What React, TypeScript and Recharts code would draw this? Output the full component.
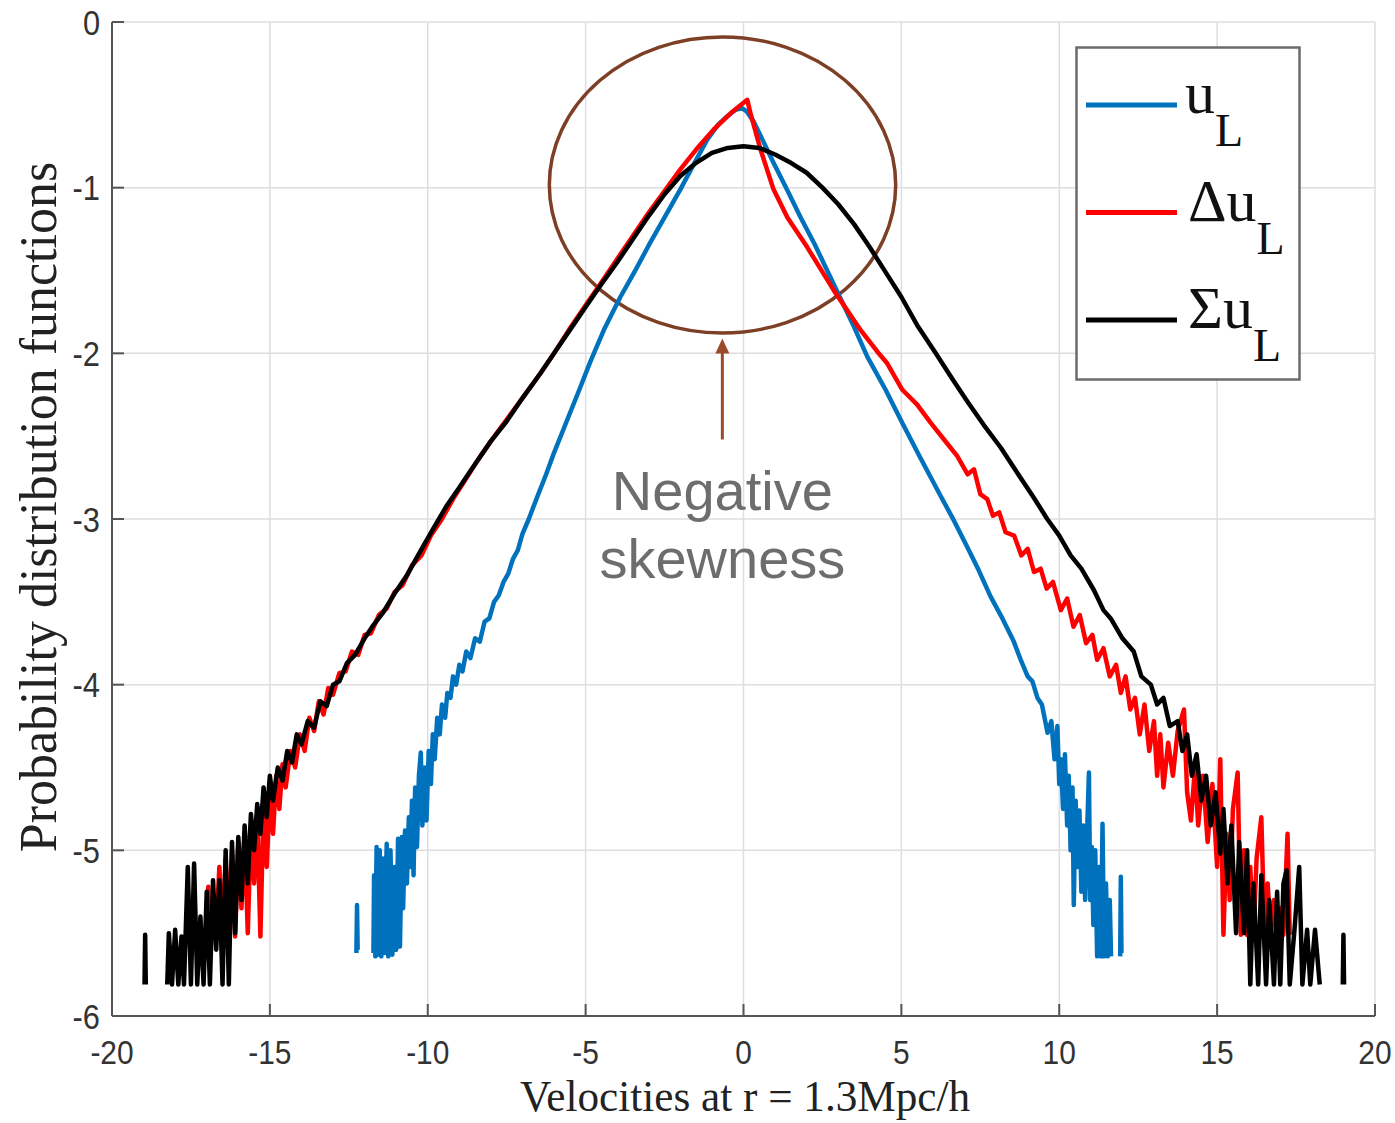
import {
  CartesianGrid,
  Legend,
  Line,
  LineChart,
  ReferenceArea,
  ReferenceDot,
  XAxis,
  YAxis,
} from "recharts";

type Pt = [number, number | null];

/** u_L : velocity PDF (log10) */
const uLPoints: Pt[] = [
  [-12.26, -5.62], [-12.24, -5.33], [-12.22, -5.6], [-12.0, null],
  [-11.72, -5.62], [-11.7, -5.15], [-11.66, -5.64], [-11.62, -4.98], [-11.58, -5.63],
  [-11.52, -5.0], [-11.47, -5.64], [-11.42, -5.05], [-11.37, -5.62], [-11.3, -4.96],
  [-11.25, -5.64], [-11.18, -5.0], [-11.12, -5.63], [-11.05, -5.1], [-11.0, -5.6],
  [-10.94, -4.93], [-10.88, -5.58], [-10.82, -4.92], [-10.78, -5.35], [-10.72, -4.88],
  [-10.66, -5.2], [-10.6, -4.8], [-10.55, -5.1], [-10.5, -4.7], [-10.45, -5.15],
  [-10.4, -4.62], [-10.34, -4.98], [-10.28, -4.55], [-10.22, -4.41], [-10.17, -4.85],
  [-10.1, -4.5], [-10.04, -4.82], [-9.97, -4.4], [-9.9, -4.6], [-9.84, -4.3],
  [-9.78, -4.45], [-9.7, -4.2], [-9.62, -4.3], [-9.55, -4.12], [-9.45, -4.2],
  [-9.38, -4.05], [-9.28, -4.08], [-9.2, -3.95], [-9.1, -4.0], [-9.0, -3.88],
  [-8.9, -3.92], [-8.78, -3.8], [-8.65, -3.84], [-8.5, -3.72], [-8.35, -3.74],
  [-8.2, -3.62], [-8.05, -3.6], [-7.9, -3.5], [-7.75, -3.46], [-7.6, -3.38],
  [-7.45, -3.33], [-7.3, -3.24], [-7.15, -3.19], [-7.0, -3.09], [-6.8, -3.0],
  [-6.54, -2.87], [-6.25, -2.73], [-6.02, -2.61], [-5.6, -2.41], [-5.2, -2.22],
  [-4.85, -2.05], [-4.4, -1.85], [-3.9, -1.66], [-3.4, -1.49], [-2.95, -1.33],
  [-2.5, -1.18], [-2.0, -1.01], [-1.55, -0.85], [-1.15, -0.71], [-0.8, -0.62],
  [-0.52, -0.57], [-0.25, -0.53], [-0.05, -0.52], [0.1, -0.54], [0.32, -0.6],
  [0.6, -0.71], [0.95, -0.85], [1.4, -1.02], [1.81, -1.18], [2.25, -1.34],
  [2.65, -1.5], [3.05, -1.66], [3.5, -1.84], [3.92, -2.02], [4.5, -2.22],
  [5.03, -2.42], [5.6, -2.63], [6.24, -2.86], [6.61, -2.99], [7.09, -3.17],
  [7.45, -3.31], [7.83, -3.47], [8.2, -3.6], [8.56, -3.74], [8.8, -3.86],
  [9.0, -3.95], [9.15, -3.98], [9.31, -4.08], [9.45, -4.12], [9.63, -4.29],
  [9.75, -4.22], [9.85, -4.45], [9.94, -4.25], [10.0, -4.6], [10.05, -4.45],
  [10.12, -4.75], [10.18, -4.42], [10.25, -4.85], [10.3, -4.55], [10.36, -5.0],
  [10.42, -4.62], [10.46, -5.33], [10.52, -4.7], [10.58, -5.1], [10.64, -4.76],
  [10.7, -5.25], [10.76, -4.85], [10.82, -5.3], [10.88, -4.9], [10.94, -4.53],
  [10.98, -5.3], [11.03, -4.98], [11.08, -5.45], [11.14, -5.0], [11.2, -5.64],
  [11.26, -5.1], [11.32, -5.64], [11.37, -4.84], [11.42, -5.64], [11.48, -5.2],
  [11.54, -5.64], [11.6, -5.3], [11.64, -5.64], [11.8, null],
  [11.93, -5.64], [11.95, -5.16], [11.97, -5.62],
];

/** Δu_L */
const dULPoints: Pt[] = [
  [-17.0, -5.52], [-16.95, -5.22], [-16.9, -5.52], [-16.8, -5.3], [-16.7, -5.5],
  [-16.6, -5.1], [-16.5, -5.52], [-16.4, -5.05], [-16.3, -5.45], [-16.2, -5.0],
  [-16.1, -5.52], [-16.0, -4.95], [-15.9, -5.35], [-15.8, -4.9], [-15.7, -5.5],
  [-15.6, -4.85], [-15.5, -5.2], [-15.4, -4.8], [-15.3, -5.52], [-15.2, -4.72],
  [-15.1, -5.1], [-15.0, -4.65], [-14.9, -4.9], [-14.8, -4.55], [-14.7, -4.75],
  [-14.6, -4.48], [-14.5, -4.62], [-14.35, -4.4], [-14.2, -4.5], [-14.05, -4.3],
  [-13.9, -4.4], [-13.75, -4.2], [-13.6, -4.28], [-13.45, -4.1], [-13.3, -4.18],
  [-13.15, -4.02], [-13.0, -4.06], [-12.8, -3.93], [-12.6, -3.92], [-12.4, -3.8],
  [-12.2, -3.82], [-12.0, -3.7], [-11.8, -3.69], [-11.55, -3.58], [-11.3, -3.54],
  [-11.05, -3.44], [-10.8, -3.4], [-10.5, -3.28], [-10.2, -3.22], [-9.9, -3.1],
  [-9.55, -3.0], [-9.2, -2.88], [-8.8, -2.76], [-8.4, -2.64], [-8.0, -2.53],
  [-7.5, -2.4], [-7.0, -2.27], [-6.43, -2.12], [-6.0, -2.0], [-5.5, -1.85],
  [-5.0, -1.71], [-4.53, -1.58], [-4.0, -1.43], [-3.5, -1.29], [-3.0, -1.15],
  [-2.5, -1.02], [-2.0, -0.89], [-1.5, -0.77], [-0.95, -0.65], [-0.4, -0.55],
  [0.12, -0.47], [0.22, -0.55], [0.54, -0.77], [0.95, -1.01], [1.39, -1.18],
  [2.02, -1.36], [2.86, -1.62], [3.71, -1.86], [4.24, -1.99], [4.55, -2.06],
  [5.03, -2.22], [5.5, -2.31], [5.93, -2.42], [6.35, -2.52], [6.77, -2.62],
  [7.1, -2.73], [7.3, -2.7], [7.5, -2.85], [7.72, -2.88], [7.9, -2.98],
  [8.1, -2.96], [8.3, -3.08], [8.57, -3.1], [8.8, -3.22], [9.0, -3.18],
  [9.2, -3.32], [9.41, -3.3], [9.6, -3.42], [9.8, -3.38], [10.05, -3.55],
  [10.25, -3.48], [10.45, -3.65], [10.65, -3.58], [10.85, -3.75], [11.05, -3.7],
  [11.2, -3.85], [11.4, -3.78], [11.6, -3.95], [11.8, -3.88], [11.95, -4.05],
  [12.1, -3.95], [12.25, -4.15], [12.4, -4.08], [12.55, -4.3], [12.7, -4.12],
  [12.85, -4.4], [13.0, -4.22], [13.1, -4.55], [13.2, -4.3], [13.3, -4.62],
  [13.45, -4.35], [13.6, -4.55], [13.75, -4.28], [13.95, -4.15], [14.05, -4.65],
  [14.17, -4.82], [14.3, -4.5], [14.4, -4.85], [14.55, -4.55], [14.7, -4.95],
  [14.85, -4.6], [15.0, -5.1], [15.1, -4.45], [15.2, -5.51], [15.3, -4.9],
  [15.4, -5.3], [15.5, -4.75], [15.65, -4.53], [15.75, -5.51], [15.85, -5.0],
  [15.95, -5.51], [16.05, -5.1], [16.15, -5.51], [16.25, -5.05], [16.4, -4.8],
  [16.5, -5.51], [16.6, -5.2], [16.7, -5.51], [16.8, -5.3], [16.9, -5.51],
  [17.0, -5.35], [17.1, -5.51], [17.23, -4.9], [17.3, -5.51],
];

/** Σu_L */
const sULPoints: Pt[] = [
  [-18.97, -5.81], [-18.95, -5.51], [-18.93, -5.81], [-18.6, null],
  [-18.25, -5.81], [-18.2, -5.5], [-18.1, -5.81], [-18.0, -5.48], [-17.9, -5.81],
  [-17.8, -5.52], [-17.72, -5.81], [-17.6, -5.1], [-17.5, -5.81], [-17.4, -5.08],
  [-17.3, -5.81], [-17.2, -5.4], [-17.1, -5.81], [-17.0, -5.25], [-16.9, -5.81],
  [-16.8, -5.18], [-16.7, -5.6], [-16.6, -5.18], [-16.5, -5.81], [-16.4, -5.0],
  [-16.3, -5.81], [-16.2, -4.95], [-16.1, -5.5], [-16.0, -4.92], [-15.9, -5.3],
  [-15.8, -4.85], [-15.7, -5.2], [-15.6, -4.78], [-15.5, -5.0], [-15.4, -4.72],
  [-15.3, -4.9], [-15.2, -4.62], [-15.1, -4.8], [-15.0, -4.55], [-14.9, -4.7],
  [-14.75, -4.5], [-14.6, -4.58], [-14.45, -4.4], [-14.3, -4.47], [-14.15, -4.3],
  [-14.0, -4.36], [-13.8, -4.22], [-13.6, -4.26], [-13.4, -4.1], [-13.2, -4.13],
  [-13.0, -4.0], [-12.8, -3.98], [-12.56, -3.87], [-12.3, -3.82], [-12.0, -3.72],
  [-11.72, -3.64], [-11.4, -3.56], [-11.05, -3.45], [-10.66, -3.34], [-10.25, -3.2],
  [-9.83, -3.06], [-9.4, -2.92], [-9.0, -2.81], [-8.65, -2.71], [-8.0, -2.53],
  [-7.5, -2.41], [-7.0, -2.27], [-6.43, -2.12], [-6.0, -2.0], [-5.5, -1.86],
  [-5.0, -1.72], [-4.53, -1.59], [-4.0, -1.45], [-3.5, -1.31], [-3.0, -1.17],
  [-2.5, -1.04], [-2.0, -0.93], [-1.5, -0.85], [-1.0, -0.79], [-0.5, -0.76],
  [0.0, -0.75], [0.5, -0.76], [1.0, -0.8], [1.5, -0.85], [2.0, -0.91],
  [2.5, -1.0], [3.0, -1.1], [3.5, -1.22], [4.0, -1.36], [4.5, -1.51],
  [5.0, -1.66], [5.5, -1.83], [6.09, -2.0], [6.6, -2.15], [7.09, -2.29],
  [7.6, -2.43], [8.15, -2.57], [8.7, -2.73], [9.19, -2.87], [9.62, -3.0],
  [10.0, -3.1], [10.36, -3.22], [10.7, -3.3], [11.1, -3.43], [11.4, -3.55],
  [11.63, -3.6], [12.0, -3.72], [12.36, -3.8], [12.6, -3.95], [12.9, -4.0],
  [13.1, -4.12], [13.3, -4.08], [13.5, -4.25], [13.75, -4.22], [13.9, -4.4],
  [14.05, -4.3], [14.2, -4.55], [14.35, -4.42], [14.5, -4.7], [14.65, -4.55],
  [14.8, -4.85], [14.95, -4.65], [15.1, -5.02], [15.2, -4.75], [15.33, -5.2],
  [15.45, -4.85], [15.6, -5.5], [15.7, -4.95], [15.85, -5.5], [15.95, -5.0],
  [16.05, -5.81], [16.15, -5.2], [16.3, -5.81], [16.4, -5.15], [16.55, -5.81],
  [16.65, -5.3], [16.8, -5.81], [16.9, -5.25], [17.0, -5.81], [17.1, -5.2],
  [17.2, -5.12], [17.3, -5.81], [17.45, -5.48], [17.6, -5.1], [17.7, -5.81],
  [17.85, -5.48], [17.95, -5.81], [18.1, -5.48], [18.25, -5.81], [18.6, null],
  [18.98, -5.81], [19.0, -5.51], [19.02, -5.81],
];

const xTicks = [-20, -15, -10, -5, 0, 5, 10, 15, 20];
const yTicks = [-6, -5, -4, -3, -2, -1, 0];

const seriesMain = ["u", "\u0394u", "\u03a3u"];
const seriesSub = ["L", "L", "L"];
const seriesColors = ["#0072BD", "#FF0000", "#000000"];
const seriesPoints = [uLPoints, dULPoints, sULPoints];

// annotation (data coordinates)
const ellipseX = [-6.15, 4.82];
const ellipseY = [-1.877, -0.09];
const arrowX = -0.67;
const arrowY = [-2.52, -1.91];
const noteLines = ["Negative", "skewness"];
const noteY = [-2.945, -3.355];

const SERIF = '"Liberation Serif", "Times New Roman", serif';
const SANS = '"Liberation Sans", Arial, sans-serif';
const AXIS = "#555";
const TICK_LEN = 12;
const X_GAP = 24;
const Y_GAP = 12;

const toRows = (pts: Pt[]) => pts.map(([x, y]) => ({ x, y }));

function XTick({ x, y, payload }: any) {
  const axisY = y - X_GAP;
  return (
    <g>
      <line x1={x} x2={x} y1={axisY} y2={axisY - TICK_LEN} stroke={AXIS} strokeWidth={2} />
      <g transform={`translate(${x},${y})`}>
        <text transform="scale(0.88,1)" textAnchor="middle" dy="0.72em" fontFamily={SANS} fontSize={34} fill="#333">
          {payload.value}
        </text>
      </g>
    </g>
  );
}

function YTick({ x, y, payload }: any) {
  const axisX = x + Y_GAP;
  return (
    <g>
      <line x1={axisX} x2={axisX + TICK_LEN} y1={y} y2={y} stroke={AXIS} strokeWidth={2} />
      <g transform={`translate(${x},${y})`}>
        <text transform="scale(0.88,1)" textAnchor="end" dy="0.36em" fontFamily={SANS} fontSize={35} fill="#333">
          {payload.value}
        </text>
      </g>
    </g>
  );
}

function TopTick({ x, y }: any) {
  return <line x1={x} x2={x} y1={y} y2={y + TICK_LEN} stroke={AXIS} strokeWidth={2} />;
}

function RightTick({ x, y }: any) {
  return <line x1={x} x2={x - TICK_LEN} y1={y} y2={y} stroke={AXIS} strokeWidth={2} />;
}

function LegendBox() {
  return (
    <svg width={226} height={336} style={{ display: "block" }}>
      <rect x={1.5} y={1.5} width={223} height={332} fill="#fff" stroke="#6b6b6b" strokeWidth={2.5} />
      {seriesMain.map((m, i) => {
        const cy = 59 + i * 107.5;
        return (
          <g key={m}>
            <line x1={11} x2={102} y1={cy} y2={cy} stroke={seriesColors[i]} strokeWidth={5} />
            <text x={i === 0 ? 110 : 113} y={cy + 8} fontFamily={SERIF} fontSize={60} fill="#111">
              <tspan>{m}</tspan>
              <tspan dy={33} fontSize={46}>{seriesSub[i]}</tspan>
            </text>
          </g>
        );
      })}
    </svg>
  );
}

export default function App() {
  return (
    <div style={{ position: "absolute", left: 0, top: 0, background: "#fff" }}>
      <LineChart width={1395} height={1123} margin={{ top: 22, right: 20, bottom: 0, left: 0 }}>
        <CartesianGrid stroke="#dedede" strokeWidth={1.5} />
        <XAxis
          type="number"
          dataKey="x"
          domain={[-20, 20]}
          ticks={xTicks}
          allowDataOverflow
          height={107}
          stroke={AXIS}
          strokeWidth={2}
          tickLine={false}
          tickSize={0}
          tickMargin={X_GAP}
          tick={<XTick />}
          label={{
            content: () => (
              <text x={745} y={1111} textAnchor="middle" fontFamily={SERIF} fontSize={45} fill="#222" transform="translate(745,0) scale(0.96,1) translate(-745,0)">
                Velocities at r = 1.3Mpc/h
              </text>
            ),
          }}
        />
        <XAxis
          xAxisId="top"
          orientation="top"
          type="number"
          domain={[-20, 20]}
          ticks={xTicks}
          height={0}
          stroke={AXIS}
          strokeWidth={2}
          tickLine={false}
          tickSize={0}
          tickMargin={0}
          tick={<TopTick />}
        />
        <YAxis
          type="number"
          dataKey="y"
          domain={[-6, 0]}
          ticks={yTicks}
          allowDataOverflow
          width={112}
          stroke={AXIS}
          strokeWidth={2}
          tickLine={false}
          tickSize={0}
          tickMargin={Y_GAP}
          tick={<YTick />}
          label={{
            content: () => (
              <text x={38} y={507} textAnchor="middle" dominantBaseline="central" transform="rotate(-90 38 507)" fontFamily={SERIF} fontSize={52} fill="#222">
                Probability distribution functions
              </text>
            ),
          }}
        />
        <YAxis
          yAxisId="right"
          orientation="right"
          type="number"
          domain={[-6, 0]}
          ticks={yTicks}
          width={0}
          stroke={AXIS}
          strokeWidth={2}
          tickLine={false}
          tickSize={0}
          tickMargin={0}
          tick={<RightTick />}
        />
        {seriesPoints.map((pts, i) => (
          <Line
            key={seriesMain[i]}
            data={toRows(pts)}
            dataKey="y"
            name={seriesMain[i] + seriesSub[i]}
            type="linear"
            stroke={seriesColors[i]}
            strokeWidth={4.5}
            strokeLinejoin="round"
            dot={false}
            activeDot={false}
            connectNulls={false}
            isAnimationActive={false}
          />
        ))}
        <ReferenceArea
          x1={ellipseX[0]}
          x2={ellipseX[1]}
          y1={ellipseY[0]}
          y2={ellipseY[1]}
          ifOverflow="visible"
          shape={(p: any) => (
            <ellipse cx={p.x + p.width / 2} cy={p.y + p.height / 2} rx={p.width / 2} ry={p.height / 2} fill="none" stroke="#7d3f25" strokeWidth={3.5} />
          )}
        />
        <ReferenceArea
          x1={arrowX - 0.3}
          x2={arrowX + 0.3}
          y1={arrowY[0]}
          y2={arrowY[1]}
          ifOverflow="visible"
          shape={(p: any) => {
            const cx = p.x + p.width / 2;
            return (
              <g>
                <line x1={cx} x2={cx} y1={p.y + p.height} y2={p.y + 12} stroke="#9c4a2c" strokeWidth={3} />
                <polygon points={`${cx - 7},${p.y + 15} ${cx + 7},${p.y + 15} ${cx},${p.y}`} fill="#9c4a2c" />
              </g>
            );
          }}
        />
        {noteLines.map((t, i) => (
          <ReferenceDot
            key={t}
            x={arrowX}
            y={noteY[i]}
            ifOverflow="visible"
            shape={(p: any) => (
              <text x={p.cx} y={p.cy} textAnchor="middle" fontFamily={SANS} fontSize={56} fill="#6d6d6d">
                {t}
              </text>
            )}
          />
        ))}
        <Legend
          layout="vertical"
          align="center"
          verticalAlign="middle"
          content={() => <LegendBox />}
          wrapperStyle={{ left: 1075, top: 46, width: 226, height: 336 }}
        />
      </LineChart>
    </div>
  );
}
